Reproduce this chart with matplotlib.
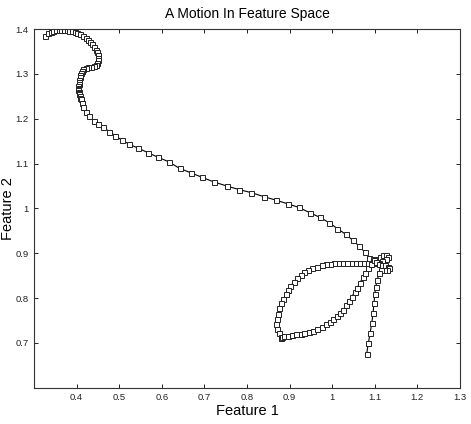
import matplotlib
matplotlib.use("Agg")
import matplotlib.pyplot as plt

plt.rcParams['font.family'] = ['Liberation Sans', 'DejaVu Sans']

# trajectory through feature space (Feature 1, Feature 2), in time order
feature1 = [
    # top-left start and hook
    0.326, 0.333, 0.339, 0.345, 0.352, 0.358, 0.364, 0.371, 0.377, 0.383,
    0.389, 0.396, 0.402, 0.408, 0.415, 0.421, 0.426, 0.432, 0.436, 0.441,
    0.445, 0.448, 0.451, 0.451, 0.451, 0.449, 0.445, 0.440, 0.433, 0.427,
    0.422, 0.416, 0.412, 0.410, 0.408, 0.407, 0.406, 0.405, 0.405, 0.404,
    0.404, 0.404, 0.404, 0.405, 0.405, 0.406, 0.407, 0.408,
    # long descending curve
    0.410, 0.412, 0.416, 0.422, 0.428, 0.440, 0.451, 0.463, 0.477, 0.491,
    0.506, 0.524, 0.545, 0.568, 0.591, 0.616, 0.642, 0.669, 0.695, 0.722,
    0.752, 0.781, 0.810, 0.840, 0.869, 0.896, 0.922, 0.948, 0.971, 0.993,
    1.012, 1.032, 1.048, 1.063, 1.076, 1.087,
    # first tangle
    1.095, 1.103, 1.112, 1.120, 1.127, 1.131, 1.126, 1.118, 1.110, 1.100,
    1.091,
    # upper arc of the leaf
    1.083, 1.073, 1.063, 1.053, 1.044, 1.034, 1.024, 1.014, 1.004, 0.995,
    0.985, 0.975, 0.964, 0.953, 0.943, 0.934, 0.926, 0.918, 0.910, 0.902,
    0.896, 0.891, 0.885, 0.880, 0.876, 0.873, 0.871, 0.869, 0.871, 0.875,
    0.879, 0.881, 0.883,
    # lower arc of the leaf
    0.887, 0.896, 0.906, 0.916, 0.926, 0.935, 0.945, 0.956, 0.965, 0.975,
    0.985, 0.994, 1.003, 1.011, 1.018, 1.026, 1.033, 1.040, 1.046, 1.053,
    1.059, 1.065, 1.072, 1.078, 1.084, 1.091, 1.097,
    # second tangle
    1.103, 1.110, 1.118, 1.125, 1.130, 1.133, 1.129, 1.121, 1.115,
    # final tail
    1.110, 1.106, 1.102, 1.100, 1.098, 1.096, 1.093, 1.089, 1.085, 1.081,
]
feature2 = [
    1.384, 1.390, 1.394, 1.396, 1.398, 1.398, 1.398, 1.398, 1.397, 1.396,
    1.396, 1.393, 1.391, 1.388, 1.384, 1.381, 1.376, 1.371, 1.366, 1.360,
    1.354, 1.348, 1.342, 1.336, 1.330, 1.324, 1.320, 1.317, 1.315, 1.315,
    1.313, 1.311, 1.307, 1.302, 1.297, 1.292, 1.287, 1.282, 1.277, 1.273,
    1.269, 1.266, 1.263, 1.260, 1.257, 1.254, 1.250, 1.247,
    1.243, 1.234, 1.225, 1.215, 1.206, 1.195, 1.188, 1.181, 1.171, 1.162,
    1.152, 1.143, 1.134, 1.124, 1.114, 1.104, 1.089, 1.079, 1.069, 1.059,
    1.050, 1.042, 1.035, 1.026, 1.018, 1.010, 1.002, 0.990, 0.980, 0.968,
    0.955, 0.942, 0.929, 0.916, 0.903, 0.890,
    0.886, 0.888, 0.892, 0.895, 0.896, 0.892, 0.886, 0.882, 0.879, 0.878,
    0.878,
    0.878, 0.878, 0.878, 0.878, 0.878, 0.878, 0.878, 0.878, 0.878, 0.877,
    0.875, 0.873, 0.869, 0.866, 0.862, 0.858, 0.851, 0.844, 0.836, 0.826,
    0.817, 0.808, 0.797, 0.788, 0.777, 0.765, 0.754, 0.743, 0.732, 0.721,
    0.713, 0.711, 0.713,
    0.715, 0.716, 0.717, 0.719, 0.719, 0.721, 0.724, 0.727, 0.730, 0.736,
    0.741, 0.747, 0.753, 0.759, 0.767, 0.774, 0.784, 0.794, 0.803, 0.814,
    0.823, 0.834, 0.846, 0.856, 0.866, 0.875, 0.884,
    0.880, 0.876, 0.874, 0.873, 0.870, 0.866, 0.862, 0.862, 0.863,
    0.855, 0.841, 0.825, 0.808, 0.788, 0.767, 0.744, 0.722, 0.700, 0.676,
]

xticks = [0.4, 0.5, 0.6, 0.7, 0.8, 0.9, 1.0, 1.1, 1.2, 1.3]
xtick_labels = ['0.4', '0.5', '0.6', '0.7', '0.8', '0.9', '1', '1.1', '1.2', '1.3']
yticks = [0.7, 0.8, 0.9, 1.0, 1.1, 1.2, 1.3, 1.4]
ytick_labels = ['0.7', '0.8', '0.9', '1', '1.1', '1.2', '1.3', '1.4']

fig = plt.figure(figsize=(4.71, 4.24), dpi=100)
ax = fig.add_axes([0.0722, 0.0856, 0.9044, 0.846])

ax.plot(feature1, feature2, color='black', linewidth=0.8,
        marker='s', markersize=3.6, markerfacecolor='white',
        markeredgecolor='#222222', markeredgewidth=0.7)

ax.set_xlim(0.3, 1.3)
ax.set_ylim(0.6, 1.4)
ax.set_xticks(xticks)
ax.set_xticklabels(xtick_labels)
ax.set_yticks(yticks)
ax.set_yticklabels(ytick_labels)
ax.tick_params(direction='in', length=3, width=0.7, labelsize=6.8,
               top=True, right=True, pad=4, colors='#222222')
for s in ax.spines.values():
    s.set_linewidth(0.8)
    s.set_color('#333333')

ax.set_title('A Motion In Feature Space', fontsize=10, pad=8)
ax.set_xlabel('Feature 1', fontsize=10.5, labelpad=1)
ax.set_ylabel('Feature 2', fontsize=10.5)
ax.yaxis.set_label_coords(-0.045, 0.5)

fig.savefig('out.png', dpi=100)
